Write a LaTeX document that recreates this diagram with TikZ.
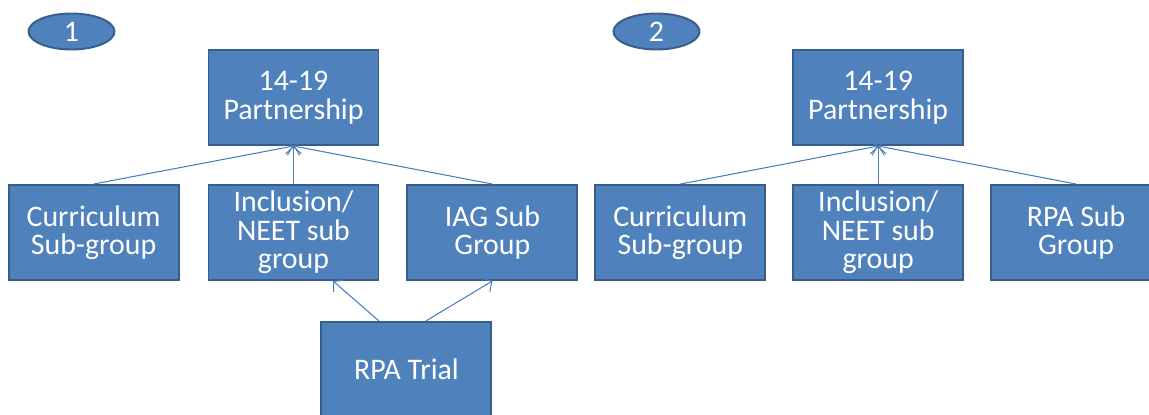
\documentclass[tikz,border=0pt]{standalone}
\usepackage{fontspec}
\setmainfont{Carlito}
\usetikzlibrary{positioning, arrows.meta, shapes.geometric}
\definecolor{boxblue}{HTML}{4F81BD}
\definecolor{boxedge}{HTML}{385D8A}
\definecolor{linkblue}{HTML}{4A7EBB}

\begin{document}
\begin{tikzpicture}[x=0.02cm, y=-0.02cm, node distance=0.76cm and 0.55cm,
		grp/.style={rectangle, draw=boxedge, line width=1.1pt, fill=boxblue, text=white, minimum width=3.4cm, minimum height=1.9cm, inner sep=2pt, align=center, font=\fontsize{17pt}{16.2pt}\selectfont},
		tag/.style={ellipse, draw=boxedge, line width=1.1pt, fill=boxblue, text=white, minimum width=1.72cm, minimum height=0.72cm, inner sep=0pt, font=\fontsize{17pt}{16.2pt}\selectfont},
		lnk/.style={draw=linkblue, line width=0.6pt, -{Straight Barb[length=4pt, width=9pt]}}]
		\useasboundingbox (0,0) rectangle (1149,415);
		% first structure
		\node[tag] (E1) at (71.5,31.5) {1};
		\node[grp] (I1) at (293.5,232.5) {Inclusion/\\NEET sub\\group};
		\node[grp] (C1) [left=0.56cm of I1] {Curriculum\\Sub-group};
		\node[grp] (S1) [right=0.54cm of I1] {IAG Sub\\Group};
		\node[grp] (P1) [above=of I1] {14-19\\Partnership};
		\node[grp] (T1) [below=0.8cm of S1.south west] {RPA Trial};
		\draw[lnk] (C1.north) -- (P1.south);
		\draw[lnk] (I1.north) -- (P1.south);
		\draw[lnk] (S1.north) -- (P1.south);
		\draw[lnk] ([xshift=-0.55cm]T1.north) -- ([xshift=0.79cm]I1.south);
		\draw[lnk] ([xshift=0.39cm]T1.north) -- (S1.south);
		% second structure
		\node[tag] (E2) at (656.5,31.5) {2};
		\node[grp] (C2) [right=0.32cm of S1] {Curriculum\\Sub-group};
		\node[grp] (I2) [right=0.52cm of C2] {Inclusion/\\NEET sub\\group};
		\node[grp] (S2) [right=0.52cm of I2] {RPA Sub\\Group};
		\node[grp] (P2) [above=of I2] {14-19\\Partnership};
		\draw[lnk] (C2.north) -- (P2.south);
		\draw[lnk] (I2.north) -- (P2.south);
		\draw[lnk] (S2.north) -- (P2.south);
	\end{tikzpicture}
\end{document}
